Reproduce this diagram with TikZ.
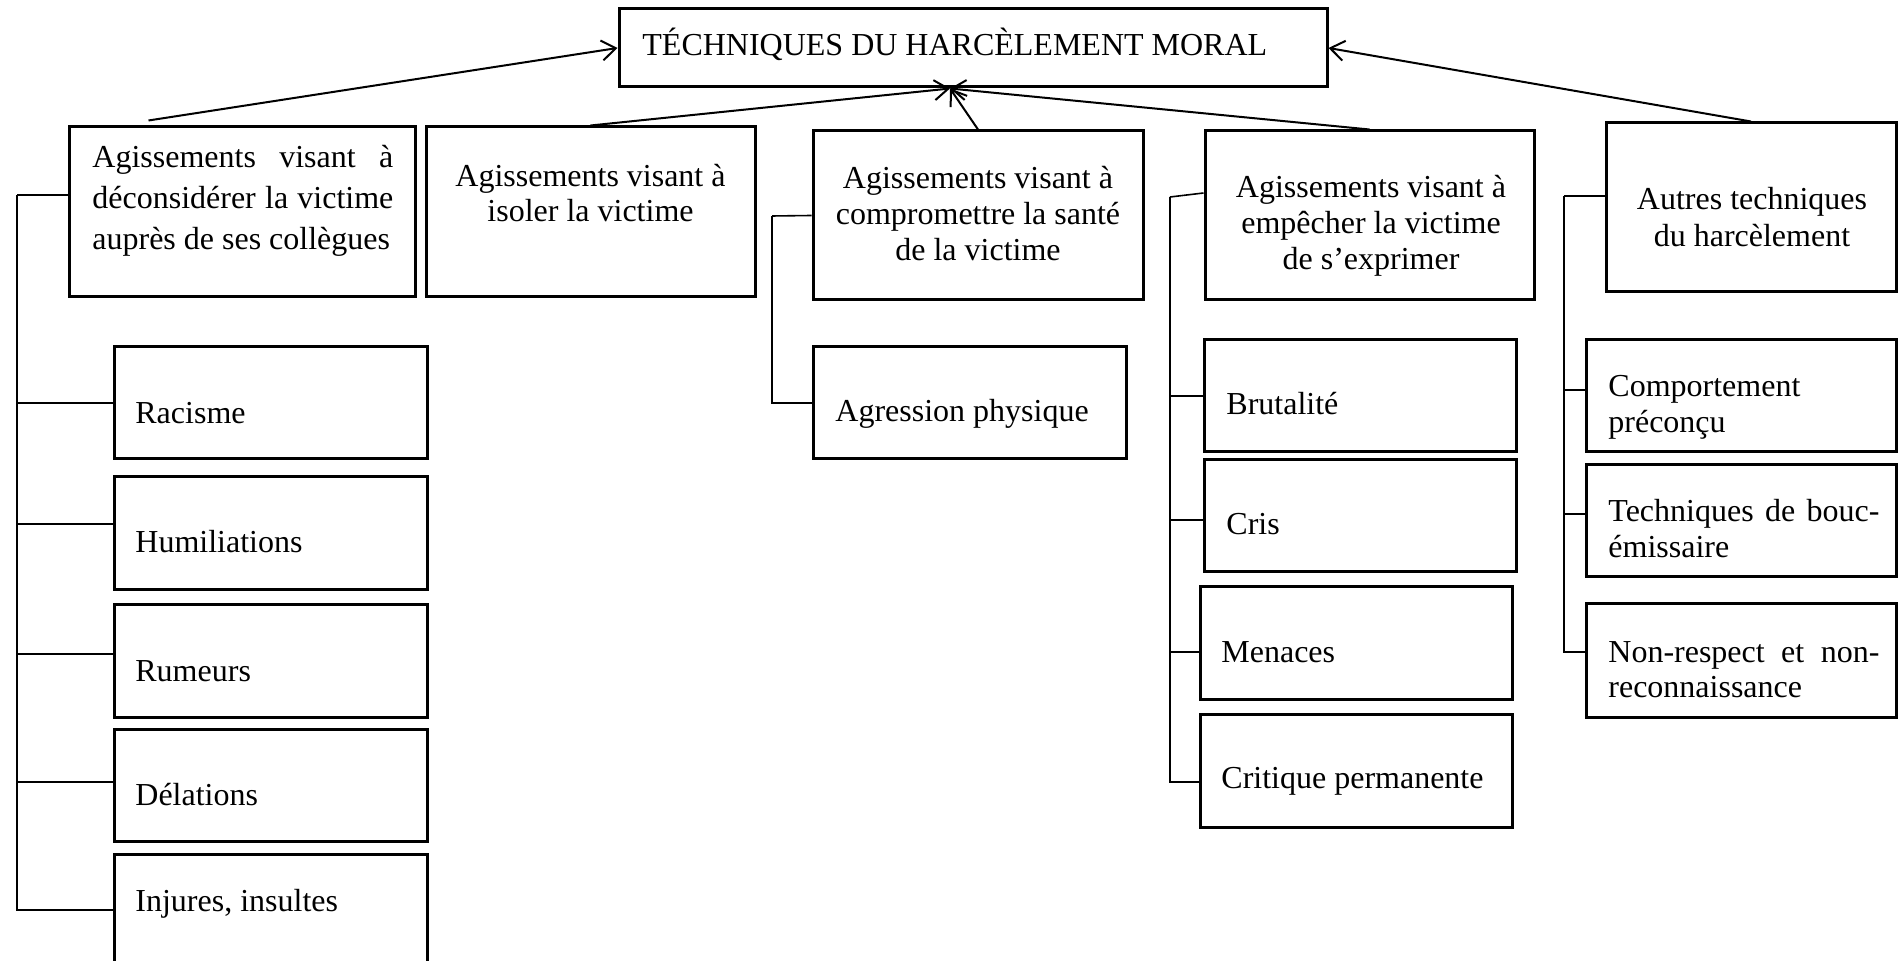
\documentclass[tikz,border=0pt]{standalone}
\usepackage{fontspec}
\setmainfont{Liberation Serif}
\usetikzlibrary{fit,calc,arrows.meta}
\begin{document}
\begin{tikzpicture}[x=0.5pt,y=-0.5pt,
  box/.style={draw, line width=1.5pt, inner sep=0pt},
  conn/.style={line width=0.8pt},
  arr/.style={line width=1pt, -{Straight Barb[length=7pt,width=10pt]}},
  txt/.style={inner sep=0pt, font=\fontsize{16pt}{18pt}\selectfont},
]
\useasboundingbox (0,0) rectangle (1899,961);

% main boxes
\node[box, fit={(619,9) (1327,87)}] (T) {};
\node[box, fit={(69,127) (415,297)}] (b1) {};
\node[box, fit={(426,127) (755,297)}] (b2) {};
\node[box, fit={(813,131) (1143,300)}] (b3) {};
\node[box, fit={(1205,131) (1534,300)}] (b4) {};
\node[box, fit={(1606,123) (1896,292)}] (b5) {};

% children of b1
\node[box, fit={(114,347) (427,459)}] (rac) {};
\node[box, fit={(114,477) (427,590)}] (hum) {};
\node[box, fit={(114,605) (427,717)}] (rum) {};
\node[box, fit={(114,729) (427,841)}] (del) {};
\node[box, fit={(114,854) (427,966)}] (inj) {};
% child of b3
\node[box, fit={(813,347) (1126,459)}] (agr) {};
% children of b4
\node[box, fit={(1204,340) (1516,452)}] (bru) {};
\node[box, fit={(1204,460) (1516,572)}] (cri) {};
\node[box, fit={(1200,587) (1512,699)}] (men) {};
\node[box, fit={(1200,714) (1512,827)}] (crp) {};
% children of b5
\node[box, fit={(1586,340) (1896,452)}] (com) {};
\node[box, fit={(1586,465) (1896,577)}] (tec) {};
\node[box, fit={(1586,604) (1896,717)}] (non) {};

% texts
\node[txt, anchor=base west] (tT) at (642,56) {TÉCHNIQUES DU HARCÈLEMENT MORAL};
\node[txt, anchor=base west] (t1) at (92,168) {\parbox[t]{150.5pt}{\fontsize{16pt}{20.5pt}\selectfont
  \makebox[150.5pt][s]{Agissements visant à}\\
  \makebox[150.5pt][s]{déconsidérer la victime}\\
  auprès de ses collègues}};
\node[txt, anchor=base] (t2) at (590.5,187) {\parbox[t]{160pt}{\centering\fontsize{16pt}{17.5pt}\selectfont Agissements visant à\\isoler la victime}};
\node[txt, anchor=base] (t3) at (978,189) {\parbox[t]{160pt}{\centering\fontsize{16pt}{18pt}\selectfont Agissements visant à\\compromettre la santé\\de la victime}};
\node[txt, anchor=base] (t4) at (1371,198) {\parbox[t]{160pt}{\centering\fontsize{16pt}{18pt}\selectfont Agissements visant à\\empêcher la victime\\de s’exprimer}};
\node[txt, anchor=base] (t5) at (1752,210) {\parbox[t]{140pt}{\centering\fontsize{16pt}{18.5pt}\selectfont Autres techniques\\du harcèlement}};

\node[txt, anchor=base west] (trac) at (135,424) {Racisme};
\node[txt, anchor=base west] (thum) at (135,553) {Humiliations};
\node[txt, anchor=base west] (trum) at (135,681) {Rumeurs};
\node[txt, anchor=base west] (tdel) at (135,805) {Délations};
\node[txt, anchor=base west] (tinj) at (135,911) {Injures, insultes};
\node[txt, anchor=base west] (tagr) at (835,422) {Agression physique};
\node[txt, anchor=base west] (tbru) at (1226,415) {Brutalité};
\node[txt, anchor=base west] (tcri) at (1226,535) {Cris};
\node[txt, anchor=base west] (tmen) at (1221,662) {Menaces};
\node[txt, anchor=base west] (tcrp) at (1221,788) {Critique permanente};
\node[txt, anchor=base west] (tcom) at (1608,397) {\parbox[t]{135.5pt}{\raggedright\fontsize{16pt}{18pt}\selectfont Comportement\\préconçu}};
\node[txt, anchor=base west] (ttec) at (1608,522) {\parbox[t]{135.5pt}{\fontsize{16pt}{18pt}\selectfont
  \makebox[135.5pt][s]{Techniques de bouc-}\\émissaire}};
\node[txt, anchor=base west] (tnon) at (1608,662) {\parbox[t]{135.5pt}{\fontsize{16pt}{17.5pt}\selectfont
  \makebox[135.5pt][s]{Non-respect et non-}\\reconnaissance}};

% arrows to the title
\draw[arr] ($(b1.north west)+(81,-5)$) -- (T.west);
\draw[arr] (b2.north) -- ($(T.south)+(-23,0)$);
\draw[arr] (b3.north) -- ($(T.south)+(-23,0)$);
\draw[arr] (b4.north) -- ($(T.south)+(-23,0)$);
\draw[arr] (b5.north) -- (T.east);

% spine 1
\coordinate (s1t) at (17,195);
\draw[conn] ([yshift=8.5pt]b1.west) -- (s1t);
\draw[conn] (rac.west) -| (s1t);
\draw[conn] ([yshift=4.75pt]hum.west) -| (s1t);
\draw[conn] ([yshift=3.5pt]rum.west) -| (s1t);
\draw[conn] ([yshift=1.5pt]del.west) -| (s1t);
\draw[conn] (inj.west) -| (s1t);

% spine 3
\coordinate (s3t) at (772,216);
\draw[conn] (b3.west) -- (s3t);
\draw[conn] (agr.west) -| (s3t);

% spine 4
\coordinate (s4t) at (1170,197);
\draw[conn] ([yshift=11.25pt]b4.west) -- (s4t);
\draw[conn] (bru.west) -| (s4t);
\draw[conn] ([yshift=-2pt]cri.west) -| (s4t);
\draw[conn] ([yshift=-4.5pt]men.west) -| (s4t);
\draw[conn] ([yshift=-5.75pt]crp.west) -| (s4t);

% spine 5
\coordinate (s5t) at (1564,196);
\draw[conn] ([yshift=5.75pt]b5.west) -- (s5t);
\draw[conn] ([yshift=3pt]com.west) -| (s5t);
\draw[conn] ([yshift=3.5pt]tec.west) -| (s5t);
\draw[conn] ([yshift=4.25pt]non.west) -| (s5t);
\end{tikzpicture}
\end{document}
